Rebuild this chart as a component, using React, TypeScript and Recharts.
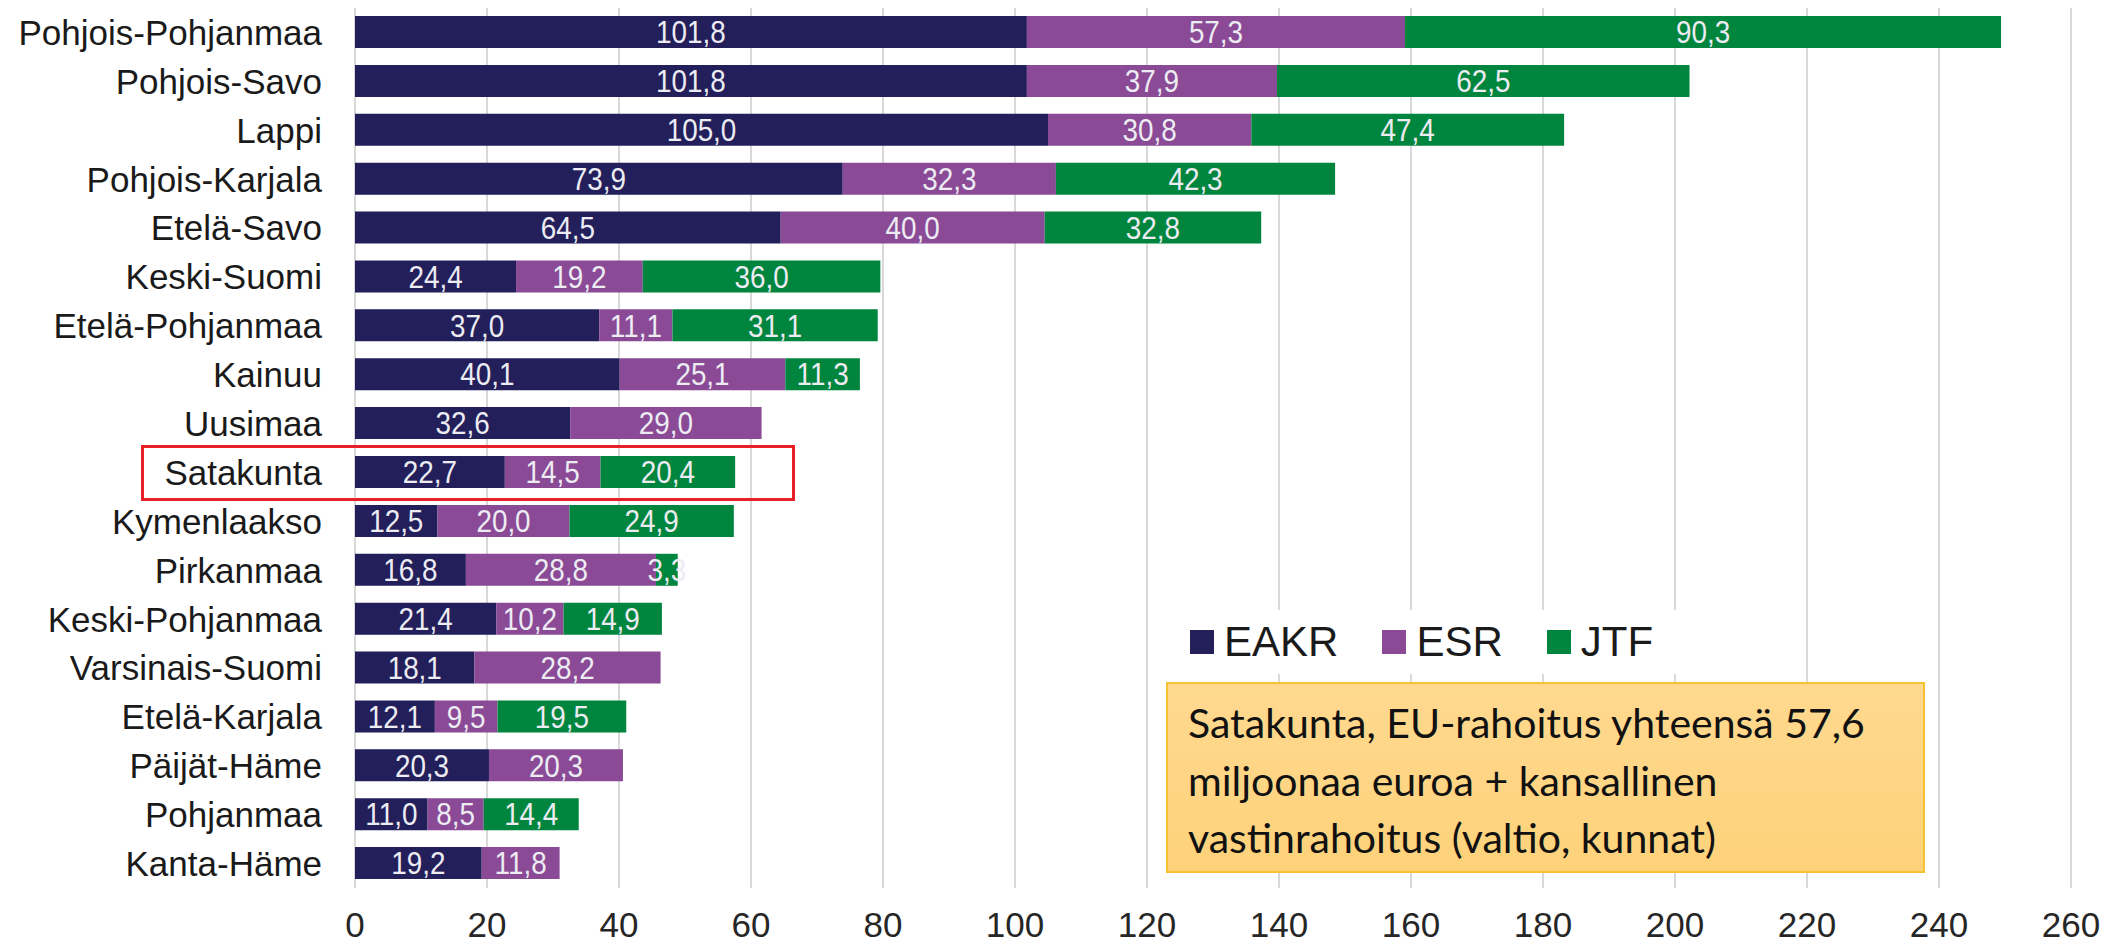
import React from "react";
import { BarChart, Bar, XAxis, YAxis, CartesianGrid, LabelList } from "recharts";

const regions = [
  "Pohjois-Pohjanmaa",
  "Pohjois-Savo",
  "Lappi",
  "Pohjois-Karjala",
  "Etelä-Savo",
  "Keski-Suomi",
  "Etelä-Pohjanmaa",
  "Kainuu",
  "Uusimaa",
  "Satakunta",
  "Kymenlaakso",
  "Pirkanmaa",
  "Keski-Pohjanmaa",
  "Varsinais-Suomi",
  "Etelä-Karjala",
  "Päijät-Häme",
  "Pohjanmaa",
  "Kanta-Häme",
];

const eakr = [101.8, 101.8, 105.0, 73.9, 64.5, 24.4, 37.0, 40.1, 32.6, 22.7, 12.5, 16.8, 21.4, 18.1, 12.1, 20.3, 11.0, 19.2];
const esr = [57.3, 37.9, 30.8, 32.3, 40.0, 19.2, 11.1, 25.1, 29.0, 14.5, 20.0, 28.8, 10.2, 28.2, 9.5, 20.3, 8.5, 11.8];
const jtf = [90.3, 62.5, 47.4, 42.3, 32.8, 36.0, 31.1, 11.3, null, 20.4, 24.9, 3.3, 14.9, null, 19.5, null, 14.4, null];

const xTicks = [0, 20, 40, 60, 80, 100, 120, 140, 160, 180, 200, 220, 240, 260];

const series = [
  { key: "EAKR", color: "#221f5b" },
  { key: "ESR", color: "#8a4a96" },
  { key: "JTF", color: "#00853e" },
];

const data = regions.map((r, i) => ({ region: r, EAKR: eakr[i], ESR: esr[i], JTF: jtf[i] }));

const fmt = (v: number) => v.toFixed(1).replace(".", ",");

const sans = "'Liberation Sans', Arial, sans-serif";

// value label centred in each segment, slightly condensed like the original
function ValueLabel(props: any) {
  const { x, y, width, height, value } = props;
  if (value == null || value === 0) return null;
  const cx = x + width / 2;
  const cy = y + height / 2;
  return (
    <text
      transform={`translate(${cx},${cy}) scale(0.87,1)`}
      x={0}
      y={0}
      textAnchor="middle"
      dominantBaseline="central"
      fill="#ececf2"
      fontSize={32}
      fontFamily={sans}
    >
      {fmt(Number(value))}
    </text>
  );
}

export default function App() {
  return (
    <div style={{ position: "absolute", left: 0, top: 0, width: 2105, height: 943, background: "#fff" }}>
      <BarChart
        width={2105}
        height={943}
        data={data}
        layout="vertical"
        margin={{ top: 8, right: 34, bottom: 0, left: 0 }}
        barSize={32}
      >
        <CartesianGrid horizontal={false} stroke="#d9d9d9" strokeWidth={2} />
        <XAxis
          type="number"
          domain={[0, 260]}
          ticks={xTicks}
          height={55}
          axisLine={false}
          tickLine={false}
          tickMargin={18}
          tick={{ fontSize: 35, fill: "#262626", fontFamily: sans }}
        />
        <YAxis
          type="category"
          dataKey="region"
          width={355}
          axisLine={false}
          tickLine={false}
          tickMargin={27}
          interval={0}
          tick={{ fontSize: 35, fill: "#1a1a1a", fontFamily: sans }}
        />
        {series.map((s) => (
          <Bar key={s.key} dataKey={s.key} stackId="a" fill={s.color} isAnimationActive={false}>
            <LabelList dataKey={s.key} content={<ValueLabel />} />
          </Bar>
        ))}
      </BarChart>

      {/* legend */}
      <div
        style={{
          position: "absolute",
          left: 1176,
          top: 610,
          display: "flex",
          alignItems: "center",
          background: "#ffffff",
          padding: "6px 14px",
          fontFamily: sans,
          fontSize: 42,
          lineHeight: "52px",
          color: "#1a1a1a",
        }}
      >
        {series.map((s) => (
          <div key={s.key} style={{ display: "flex", alignItems: "center", marginRight: 44 }}>
            <span style={{ width: 24, height: 24, background: s.color, marginRight: 10, display: "inline-block" }} />
            <span>{s.key}</span>
          </div>
        ))}
      </div>

      {/* highlight around Satakunta */}
      <div
        style={{
          position: "absolute",
          left: 141,
          top: 445,
          width: 648,
          height: 50,
          border: "3px solid #e8202a",
          pointerEvents: "none",
        }}
      />

      {/* note box */}
      <div
        style={{
          position: "absolute",
          left: 1166,
          top: 682,
          width: 759,
          height: 191,
          boxSizing: "border-box",
          padding: "10px 0 0 20px",
          background: "linear-gradient(#ffd990, #fed27a)",
          border: "2px solid #f6c233",
          fontFamily: "Lato, 'Open Sans', sans-serif",
          fontSize: 41,
          lineHeight: "57.5px",
          color: "#111",
        }}
      >
        Satakunta, EU-rahoitus yhteensä 57,6
        <br />
        miljoonaa euroa + kansallinen
        <br />
        vastinrahoitus (valtio, kunnat)
      </div>
    </div>
  );
}
